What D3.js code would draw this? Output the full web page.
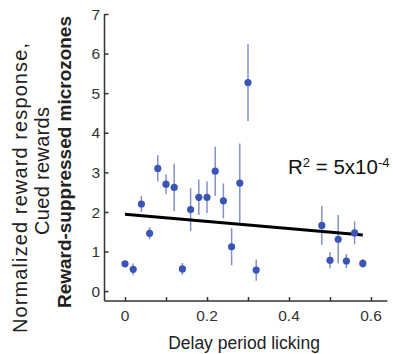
<!DOCTYPE html>
<html>
<head>
<meta charset="utf-8">
<script src="https://cdn.jsdelivr.net/npm/d3@7"></script>
<style>
  body { margin: 0; background: #fff; }
  svg { display: block; }
</style>
</head>
<body>
<svg id="chart" width="393" height="354"></svg>
<script>
var licking = [0, 0.02, 0.04, 0.06, 0.08, 0.10, 0.12, 0.14, 0.16, 0.18, 0.20, 0.22,
  0.24, 0.26, 0.28, 0.30, 0.32, 0.48, 0.50, 0.52, 0.54, 0.56, 0.58];
var response = [0.69, 0.55, 2.2, 1.46, 3.1, 2.7, 2.62, 0.56, 2.06, 2.37, 2.37, 3.03,
  2.28, 1.12, 2.73, 5.27, 0.53, 1.66, 0.78, 1.31, 0.76, 1.47, 0.70];
var sem = [0.05, 0.15, 0.2, 0.15, 0.33, 0.25, 0.6, 0.15, 0.54, 0.45, 0.4, 0.62,
  0.44, 0.47, 1.0, 0.97, 0.27, 0.49, 0.21, 0.61, 0.18, 0.29, 0.11];
var fitX = [0, 0.58];
var fitY = [1.94, 1.42];
var xTicks = [0, 0.2, 0.4, 0.6];
var xMinor = [0, 0.1, 0.2, 0.3, 0.4, 0.5, 0.6];
var yTicks = [0, 1, 2, 3, 4, 5, 6, 7];

var svg = d3.select("#chart");
var font = "'Liberation Sans', Arial, sans-serif";

var x = d3.scaleLinear().domain([-0.05, 0.64]).range([104.5, 387.4]);
var y = d3.scaleLinear().domain([-0.25, 7]).range([301, 14]);

// axes
var xAxis = svg.append("g")
  .attr("transform", "translate(0," + y(-0.25) + ")")
  .call(d3.axisBottom(x).tickValues(xMinor).tickSize(-4).tickFormat(""));
var yAxis = svg.append("g")
  .attr("transform", "translate(" + x(-0.05) + ",0)")
  .call(d3.axisLeft(y).tickValues(yTicks).tickSize(-4).tickFormat(""));

[xAxis, yAxis].forEach(function (a) {
  a.select(".domain").attr("stroke", "#333").attr("stroke-width", 1.5);
  a.selectAll(".tick line").attr("stroke", "#333").attr("stroke-width", 1.5);
});
xAxis.select(".domain").attr("d", "M" + x(-0.05) + ",0H" + x(0.64));
yAxis.select(".domain").attr("d", "M0," + y(-0.25) + "V" + y(7));

// tick labels
svg.selectAll("text.xt").data(xTicks).enter().append("text")
  .attr("x", function (d) { return x(d); })
  .attr("y", 321)
  .attr("text-anchor", "middle")
  .attr("font-family", font)
  .attr("font-size", 15.5)
  .attr("fill", "#333")
  .text(function (d) { return d === 0 ? "0" : d3.format(".1f")(d); });

svg.selectAll("text.yt").data(yTicks).enter().append("text")
  .attr("x", 100)
  .attr("y", function (d) { return y(d); })
  .attr("dy", "0.36em")
  .attr("text-anchor", "end")
  .attr("font-family", font)
  .attr("font-size", 15.5)
  .attr("fill", "#333")
  .text(function (d) { return d; });

// error bars
svg.selectAll("line.err").data(licking).enter().append("line")
  .attr("x1", function (d) { return x(d); })
  .attr("x2", function (d) { return x(d); })
  .attr("y1", function (d, i) { return y(response[i] - sem[i]); })
  .attr("y2", function (d, i) { return y(response[i] + sem[i]); })
  .attr("stroke", "#8590c8")
  .attr("stroke-width", 1.5);

// fit line
svg.append("line")
  .attr("x1", x(fitX[0])).attr("y1", y(fitY[0]))
  .attr("x2", x(fitX[1])).attr("y2", y(fitY[1]))
  .attr("stroke", "#000")
  .attr("stroke-width", 3);

// points
svg.selectAll("circle.pt").data(licking).enter().append("circle")
  .attr("cx", function (d) { return x(d); })
  .attr("cy", function (d, i) { return y(response[i]); })
  .attr("r", 3.6)
  .attr("fill", "#3a55b5");

// R^2 label
var r2 = svg.append("text")
  .attr("x", 288)
  .attr("y", 174)
  .attr("font-family", font)
  .attr("font-size", 20.5)
  .attr("fill", "#111");
r2.append("tspan").text("R");
r2.append("tspan").attr("font-size", 13).attr("dy", -7.5).text("2");
r2.append("tspan").attr("dy", 7.5).text(" = 5x10");
r2.append("tspan").attr("font-size", 13).attr("dy", -7.5).text("-4");

// x label
svg.append("text")
  .attr("x", 244)
  .attr("y", 349)
  .attr("text-anchor", "middle")
  .attr("font-family", font)
  .attr("font-size", 17.5)
  .attr("fill", "#222")
  .text("Delay period licking");

// y label, three lines
var yLabels = [
  {t: "Normalized reward response,", x: 27, y: 333, size: 20, w: "normal", len: 290},
  {t: "Cued rewards", x: 48.5, y: 235, size: 20, w: "normal", len: 128},
  {t: "Reward-suppressed microzones", x: 70.5, y: 308, size: 19, w: "bold", len: 292}
];
yLabels.forEach(function (l) {
  svg.append("text")
    .attr("transform", "translate(" + l.x + "," + l.y + ") rotate(-90)")
    .attr("font-family", font)
    .attr("font-size", l.size)
    .attr("font-weight", l.w)
    .attr("textLength", l.len)
    .attr("lengthAdjust", "spacing")
    .attr("fill", "#222")
    .text(l.t);
});
</script>
</body>
</html>
